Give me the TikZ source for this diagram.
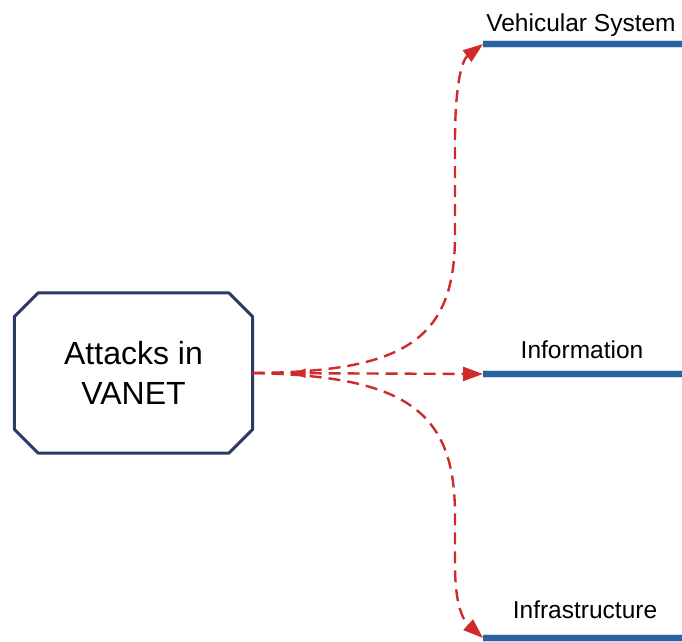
\documentclass[tikz,border=0pt]{standalone}
\usepackage{fontspec}
\setmainfont{Liberation Sans}
\usetikzlibrary{arrows.meta,calc,decorations.markings}
\definecolor{boxblue}{HTML}{2B3A67}
\definecolor{arrred}{HTML}{CF2B2B}
\definecolor{lineblue}{HTML}{2C62A0}
\definecolor{halo}{HTML}{C9DDEE}
\begin{document}
\begin{tikzpicture}[x=1pt,y=-1pt,
  conn/.style={color=arrred, line width=2.4pt, dash pattern=on 12pt off 7pt,
    -{Triangle[length=20pt,width=14pt]}},
  bar/.style={draw=lineblue, line width=5.5pt,
    preaction={draw=halo, line width=7.5pt}},
  lbl/.style={font=\fontsize{24.5}{27}\selectfont, anchor=base, inner sep=0pt},
  octo/.style={draw=boxblue, line width=3pt, line join=round}]
\useasboundingbox (0,0) rectangle (682,641);
% central box
\node[minimum width=238pt, minimum height=160pt, inner sep=0pt, align=center,
      font=\fontsize{32}{40}\selectfont] (box) at (133.5,373) {Attacks in\\VANET};
\draw[octo] ($(box.north west)+(24,0)$) -- ($(box.north east)+(-24,0)$)
  -- ($(box.north east)+(0,24)$) -- ($(box.south east)+(0,-24)$)
  -- ($(box.south east)+(-24,0)$) -- ($(box.south west)+(24,0)$)
  -- ($(box.south west)+(0,-24)$) -- ($(box.north west)+(0,24)$) -- cycle;
% bars
\coordinate (vs) at (483,44);   \coordinate (vsE) at (682,44);
\coordinate (inf) at (483,374); \coordinate (infE) at (682,374);
\coordinate (ifr) at (483,638); \coordinate (ifrE) at (682,638);
\draw[bar] (vs) -- (vsE);
\draw[bar] (inf) -- (infE);
\draw[bar] (ifr) -- (ifrE);
% labels
\node[lbl] (lvs) at (581,31) {Vehicular System};
\node[lbl] (linf) at (582,358) {Information};
\node[lbl] (lifr) at (585,618) {Infrastructure};
% connectors
\draw[conn] (box.east) .. controls (405,372) and (455,340) .. (455,235)
  -- (455,140) .. controls (455,85) and (462,60) .. (vs);
\draw[conn, postaction={decorate, decoration={markings,
    mark=at position 41pt with {\arrowreversed{Triangle[length=12pt,width=9pt]}}}}]
  (box.east) -- (inf);
\draw[conn] (box.east) .. controls (405,376) and (455,410) .. (455,515)
  -- (455,565) .. controls (455,605) and (463,620) .. (ifr);
\end{tikzpicture}
\end{document}
